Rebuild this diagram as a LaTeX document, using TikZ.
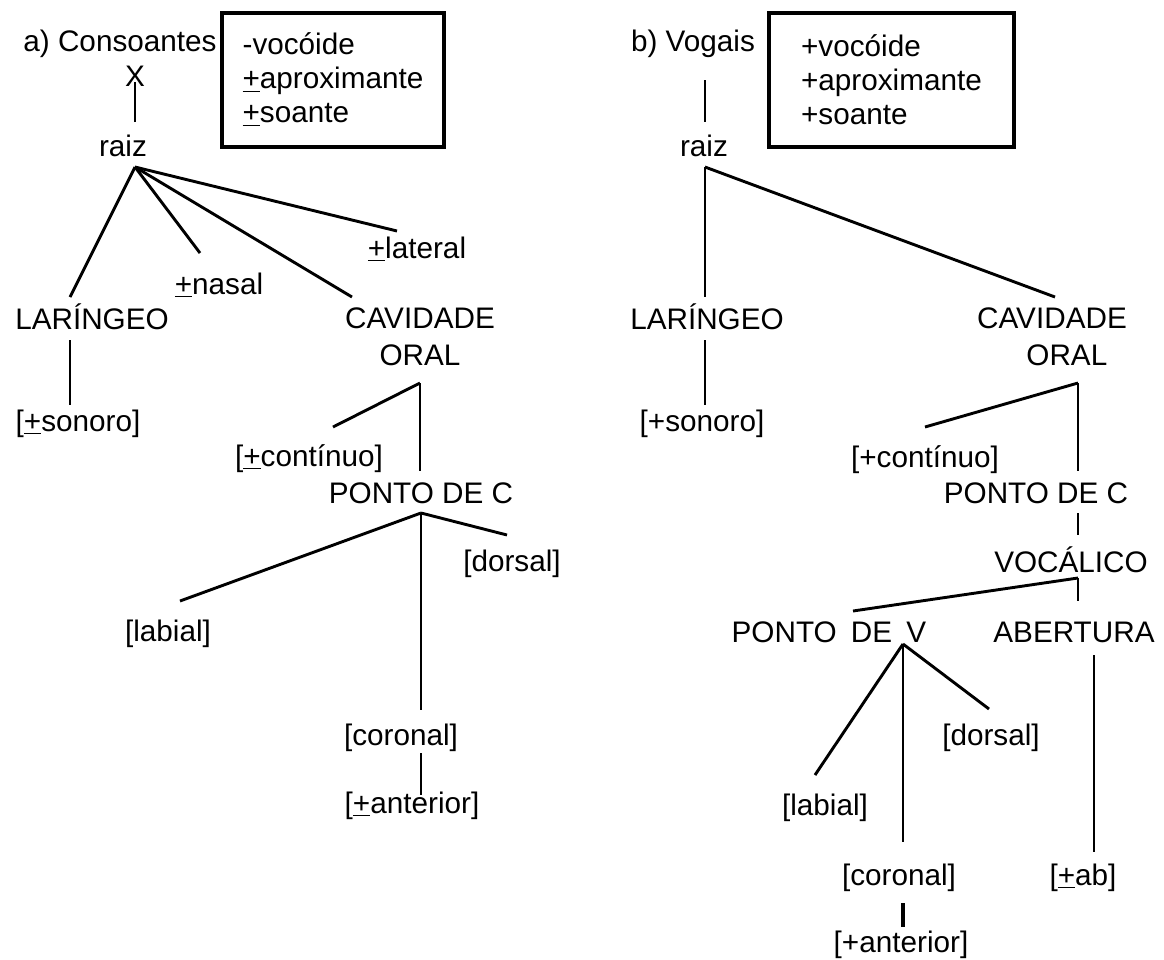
\documentclass[tikz,border=0pt]{standalone}
\usepackage{fontspec}
\setmainfont{Liberation Sans}
\usepackage{tikz}
\tikzstyle{featNode}=[anchor=base, inner sep=0pt, font=\fontsize{14.85}{17}\selectfont]
\tikzstyle{twoLineNode}=[anchor=north, inner sep=0pt, align=center, font=\fontsize{14.85}{17}\selectfont]
\tikzstyle{featBox}=[draw, line width=2pt, align=left, minimum width=111pt, minimum height=67pt, inner sep=0pt, font=\fontsize{14.85}{17}\selectfont]
\tikzstyle{treeBranch}=[line width=1.45pt]
\newcommand{\featpm}{\underline{+}}

\begin{document}
\begin{tikzpicture}[x=0.5pt, y=-0.5pt]
        \useasboundingbox (0,0) rectangle (1164,960);

        % a) Consoantes
        \node[featNode] (titA) at (120,51) {a) Consoantes};
        \node[featBox] (boxA) at (333,80) {-vocóide\\\featpm aproximante\\\featpm soante};
        \node[featNode] (xA) at (135,86) {X};
        \node[featNode] (raizA) at (123,156) {raiz};
        \node[featNode] (latA) at (417,258) {\featpm lateral};
        \node[featNode] (nasA) at (219,294) {\featpm nasal};
        \node[featNode] (larA) at (92,329) {LARÍNGEO};
        \node[twoLineNode] (cavA) at (420,307) {CAVIDADE\\[1.5pt]ORAL};
        \node[featNode] (sonA) at (78,431) {[\featpm sonoro]};
        \node[featNode] (conA) at (309,466) {[\featpm contínuo]};
        \node[featNode] (pcA) at (421,503) {PONTO DE C};
        \node[featNode] (dorA) at (512,571) {[dorsal]};
        \node[featNode] (labA) at (168,641) {[labial]};
        \node[featNode] (corA) at (401,745) {[coronal]};
        \node[featNode] (antA) at (412,813) {[\featpm anterior]};

        % junctions a)
        \coordinate (xAb) at (135,82);
        \coordinate (raizAt) at (135,122);
        \coordinate (raizAj) at (135,167);
        \coordinate (latAt) at (397,231);
        \coordinate (nasAt) at (200,253);
        \coordinate (larAt) at (70,297);
        \coordinate (cavAt) at (352,297);
        \coordinate (larAb) at (70,340);
        \coordinate (sonAt) at (70,405);
        \coordinate (cavAj) at (420,383);
        \coordinate (conAt) at (333,427);
        \coordinate (pcAt) at (420,471);
        \coordinate (pcAj) at (421,513);
        \coordinate (labAt) at (180,601);
        \coordinate (dorAt) at (507,535);
        \coordinate (corAt) at (421,710);
        \coordinate (corAb) at (421,753);
        \coordinate (antAt) at (421,795);

    	\draw[treeBranch] (raizAt) -- (xAb);
    	\draw[treeBranch] (raizAj) -- (larAt);
    	\draw[treeBranch] (raizAj) -- (nasAt);
    	\draw[treeBranch] (raizAj) -- (cavAt);
    	\draw[treeBranch] (raizAj) -- (latAt);
    	\draw[treeBranch] (larAb) -- (sonAt);
    	\draw[treeBranch] (cavAj) -- (conAt);
    	\draw[treeBranch] (cavAj) -- (pcAt);
    	\draw[treeBranch] (pcAj) -- (labAt);
    	\draw[treeBranch] (pcAj) -- (corAt);
    	\draw[treeBranch] (pcAj) -- (dorAt);
    	\draw[treeBranch] (corAb) -- (antAt);

        % b) Vogais
        \node[featNode] (titB) at (693,51) {b) Vogais};
        \node[featBox, minimum width=122.5pt] (boxB) at (891.5,80) {+vocóide\\+aproximante\\+soante};
        \node[featNode] (raizB) at (704,156) {raiz};
        \node[featNode] (larB) at (707,329) {LARÍNGEO};
        \node[twoLineNode] (cavB) at (1052,307) {CAVIDADE\\[1.5pt]\hspace*{1em}ORAL};
        \node[featNode] (sonB) at (702,431) {[+sonoro]};
        \node[featNode] (conB) at (925,467) {[+contínuo]};
        \node[featNode] (pcB) at (1036,503) {PONTO DE C};
        \node[featNode] (vocB) at (1071,572) {VOCÁLICO};
        \node[featNode] (pvB) at (829,642) {PONTO\hspace{0.48em}DE\hspace{0.48em}V};
        \node[featNode] (abB) at (1074,642) {ABERTURA};
        \node[featNode] (dorB) at (991,745) {[dorsal]};
        \node[featNode] (labB) at (825,815) {[labial]};
        \node[featNode] (corB) at (899,885) {[coronal]};
        \node[featNode] (abvB) at (1083,885) {[\featpm ab]};
        \node[featNode] (antB) at (901,952) {[+anterior]};

        % junctions b)
        \coordinate (titBb) at (705,80);
        \coordinate (raizBt) at (705,122);
        \coordinate (raizBj) at (705,167);
        \coordinate (larBt) at (705,297);
        \coordinate (cavBt) at (1055,297);
        \coordinate (larBb) at (705,340);
        \coordinate (sonBt) at (705,405);
        \coordinate (cavBj) at (1078,383);
        \coordinate (conBt) at (925,427);
        \coordinate (pcBt) at (1078,471);
        \coordinate (pcBb) at (1078,513);
        \coordinate (vocBt) at (1078,535);
        \coordinate (vocBj) at (1078,578);
        \coordinate (pvBt) at (853,611);
        \coordinate (abBt) at (1078,601);
        \coordinate (pvBj) at (903,644);
        \coordinate (labBt) at (815,775);
        \coordinate (corBt) at (903,842);
        \coordinate (dorBt) at (989,709);
        \coordinate (corBb) at (903,903);
        \coordinate (antBt) at (903,927);
        \coordinate (abBb) at (1094,655);
        \coordinate (abvBt) at (1094,852);

    	\draw[treeBranch] (titBb) -- (raizBt);
    	\draw[treeBranch] (raizBj) -- (larBt);
    	\draw[treeBranch] (raizBj) -- (cavBt);
    	\draw[treeBranch] (larBb) -- (sonBt);
    	\draw[treeBranch] (cavBj) -- (conBt);
    	\draw[treeBranch] (cavBj) -- (pcBt);
    	\draw[treeBranch] (pcBb) -- (vocBt);
    	\draw[treeBranch] (vocBj) -- (pvBt);
    	\draw[treeBranch] (vocBj) -- (abBt);
    	\draw[treeBranch] (pvBj) -- (labBt);
    	\draw[treeBranch] (pvBj) -- (corBt);
    	\draw[treeBranch] (pvBj) -- (dorBt);
    	\draw[treeBranch, line width=2.4pt] (corBb) -- (antBt);
    	\draw[treeBranch] (abBb) -- (abvBt);

\end{tikzpicture}
\end{document}
